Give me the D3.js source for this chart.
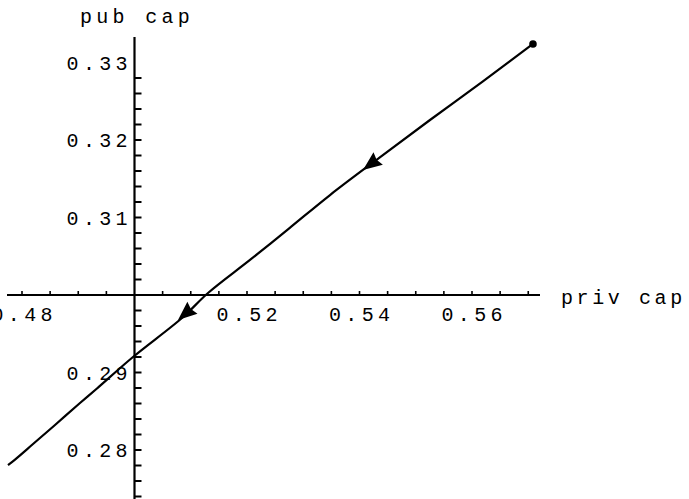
<!DOCTYPE html>
<html><head><meta charset="utf-8">
<script src="https://cdn.jsdelivr.net/npm/d3@7"></script>
<style>
html,body{margin:0;padding:0;background:#fff;}
text{font-family:"Liberation Mono","DejaVu Sans Mono",monospace;font-size:20px;fill:#000;}
</style></head>
<body>
<script>
// trajectory (priv cap, pub cap)
const privCap = [0.57084,0.56200,0.55253,0.54350,0.53476,0.52750,0.52053,0.51307,0.50844,0.49973,0.49333,0.49031,0.48587,0.48196,0.47876,0.47751];
const pubCap  = [0.33239,0.32760,0.32258,0.31770,0.31290,0.30860,0.30452,0.30026,0.29703,0.29200,0.28794,0.28606,0.28323,0.28077,0.27877,0.27806];
// arrow tip locations (pointing along the trajectory)
const arrowPriv = [0.54062, 0.50773];
const arrowPub  = [0.31613, 0.29677];
// tick labels
const xTickLabels = [0.48, 0.52, 0.54, 0.56];
const yTickLabels = [0.33, 0.32, 0.31, 0.29, 0.28];
const xMinorTicks = [0.48,0.485,0.49,0.495,0.505,0.51,0.515,0.52,0.525,0.53,0.535,0.54,0.545,0.55,0.555,0.56,0.565,0.57];
const yMinorTicks = [0.274,0.276,0.278,0.28,0.282,0.284,0.286,0.288,0.29,0.292,0.294,0.296,0.298,0.302,0.304,0.306,0.308,0.31,0.312,0.314,0.316,0.318,0.32,0.322,0.324,0.326,0.328];
const xLabel = "priv cap", yLabel = "pub cap";

const W = 689, H = 499;
const x = d3.scaleLinear().domain([0.5, 0.52]).range([134.5, 247]);
const y = d3.scaleLinear().domain([0.30, 0.31]).range([295, 217.5]);
const X0 = x(0.5), Y0 = y(0.30);

const svg = d3.select("body").append("svg").attr("width", W).attr("height", H);

// axes lines
svg.append("line").attr("x1", 7).attr("x2", 540).attr("y1", Y0).attr("y2", Y0)
  .attr("stroke", "#000").attr("stroke-width", 2);
svg.append("line").attr("x1", X0).attr("x2", X0).attr("y1", 37).attr("y2", H)
  .attr("stroke", "#000").attr("stroke-width", 2.2);

// ticks
svg.selectAll(".xt").data(xMinorTicks).enter().append("line")
  .attr("x1", d => x(d)).attr("x2", d => x(d)).attr("y1", Y0).attr("y2", Y0 - 4)
  .attr("stroke", "#000").attr("stroke-width", 1.6);
svg.selectAll(".yt").data(yMinorTicks).enter().append("line")
  .attr("x1", X0).attr("x2", X0 + 7).attr("y1", d => y(d)).attr("y2", d => y(d))
  .attr("stroke", "#000").attr("stroke-width", 2);

const LS = 4.3;
const fmt = d3.format(".2f");
svg.selectAll(".xl").data(xTickLabels).enter().append("text")
  .attr("x", d => x(d) + LS / 2).attr("y", Y0 + 12).attr("dy", "0.72em")
  .attr("text-anchor", "middle").attr("letter-spacing", LS)
  .text(d => fmt(d));
svg.selectAll(".yl").data(yTickLabels).enter().append("text")
  .attr("x", X0 - 7 + LS).attr("y", d => y(d)).attr("dy", "0.36em")
  .attr("text-anchor", "end").attr("letter-spacing", LS)
  .text(d => fmt(d));

svg.append("text").attr("x", 80).attr("y", 23).attr("letter-spacing", LS).text(yLabel);
svg.append("text").attr("x", 561).attr("y", 297).attr("dy", "0.36em").attr("letter-spacing", 3.6).text(xLabel);

// trajectory
const pts = privCap.map((v, i) => [v, pubCap[i]]);
const line = d3.line().x(d => x(d[0])).y(d => y(d[1])).curve(d3.curveCatmullRom);
svg.append("path").attr("d", line(pts)).attr("fill", "none")
  .attr("stroke", "#000").attr("stroke-width", 2.2).attr("stroke-linejoin", "round");

// start point
svg.append("circle").attr("cx", x(privCap[0])).attr("cy", y(pubCap[0])).attr("r", 3.8).attr("fill", "#000");

// arrowheads
arrowPriv.forEach((v, i) => {
  const tx = x(v), ty = y(arrowPub[i]);
  let best = 0, bd = 1e9;
  pts.forEach((p, j) => { const d = Math.hypot(x(p[0]) - tx, y(p[1]) - ty); if (d < bd) { bd = d; best = j; } });
  const a = pts[Math.max(0, best - 1)], b = pts[Math.min(pts.length - 1, best + 1)];
  let dx = x(b[0]) - x(a[0]), dy = y(b[1]) - y(a[1]);
  const L = Math.hypot(dx, dy); dx /= L; dy /= L;
  const len = 19, hw = 7.8;
  const bx = tx - dx * len, by = ty - dy * len;
  const p1 = [bx - dy * hw, by + dx * hw], p2 = [bx + dy * hw, by - dx * hw];
  svg.append("path").attr("d", `M${tx},${ty}L${p1[0]},${p1[1]}L${bx + dx * 2},${by + dy * 2}L${p2[0]},${p2[1]}Z`)
    .attr("fill", "#000");
});
</script>
</body></html>
